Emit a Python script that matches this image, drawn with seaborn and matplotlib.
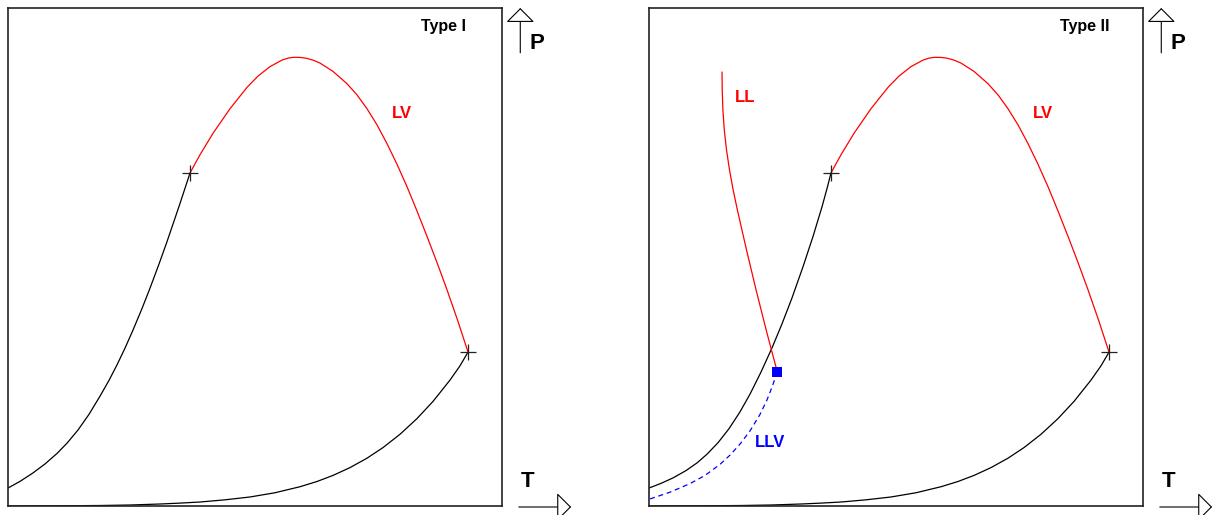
import pandas as pd
import seaborn as sns
from matplotlib import pyplot as plt

sns.set_style('white')
plt.rcParams['font.family'] = ['Liberation Sans', 'DejaVu Sans']
plt.rcParams['text.color'] = 'black'

# vapour pressure curve of the light component (type I)
t_vp1 = [0, 2.43, 5.06, 7.49, 9.92, 11.94, 14.17, 16.40, 18.62, 20.45, 22.06,
         23.68, 25.30, 27.13, 28.74, 30.57, 32.19, 33.60, 34.82, 35.83, 36.84]
p_vp1 = [3.61, 4.94, 6.64, 8.44, 10.55, 12.61, 15.26, 18.41, 22.05, 25.24, 28.33,
         31.69, 35.32, 39.66, 43.73, 48.59, 53.09, 57.19, 60.76, 63.80, 66.87]

# vapour pressure curve of the light component (type II)
t_vp1b = [0, 2.43, 4.86, 7.49, 9.72, 11.74, 13.97, 16.19, 18.42, 20.45, 22.67,
          24.90, 26.92, 28.95, 31.17, 33.20, 35.02, 36.03, 36.84]
p_vp1b = [3.61, 4.54, 5.64, 7.11, 8.65, 10.40, 12.71, 15.52, 18.90, 22.47, 26.89,
          31.75, 36.57, 41.79, 48.03, 54.12, 60.08, 63.73, 66.87]

# vapour pressure curve of the heavy component
t_vp2 = [0, 10.53, 18.62, 24.70, 30.77, 34.82, 38.87, 43.93, 48.99, 54.05, 59.11,
         62.55, 65.79, 69.23, 72.67, 75.91, 79.35, 82.79, 86.03, 89.47, 91.50, 93.12]
p_vp2 = [0, 0.04, 0.10, 0.20, 0.40, 0.58, 0.80, 1.24, 1.81, 2.66, 3.87,
         4.92, 6.14, 7.71, 9.60, 11.73, 14.40, 17.55, 21.00, 25.28, 28.15, 30.90]

# LV critical line
t_lv = [36.84, 38.87, 41.50, 44.94, 48.38, 50.61, 53.04, 55.47, 56.68, 57.69,
        59.11, 60.32, 61.74, 63.16, 65.79, 68.62, 70.65, 72.67, 74.70, 76.72,
        78.74, 80.77, 82.79, 84.82, 86.84, 88.87, 91.09, 93.12]
p_lv = [66.87, 70.54, 74.84, 79.78, 84.06, 86.33, 88.23, 89.54, 89.93, 90.09,
        90.08, 89.92, 89.54, 88.94, 87.27, 84.80, 82.55, 79.78, 76.53, 72.77,
        68.63, 64.12, 59.24, 54.14, 48.90, 43.41, 37.07, 30.90]

# LL critical line and LLV three-phase line (type II)
t_ll = [14.78, 14.82, 14.96, 15.24, 15.69, 16.30, 17.04, 17.89, 19.74, 21.68, 23.72, 25.97]
p_ll = [87.15, 83.53, 79.52, 75.50, 71.49, 67.47, 63.45, 59.44, 51.41, 43.37, 35.34, 26.91]
t_llv = [25.97, 24.90, 23.89, 22.47, 20.45, 18.42, 16.40, 14.37, 11.34, 8.30, 4.25, 0]
p_llv = [26.91, 23.87, 21.31, 18.39, 15.08, 12.43, 10.22, 8.35, 6.14, 4.50, 2.77, 1.35]

# critical points
t_crit = [36.84, 93.12]
p_crit = [66.87, 30.90]
t_ucep = [25.97]
p_ucep = [26.91]

fig = plt.figure(figsize=(12.16, 5.15), dpi=100)
ax1 = fig.add_axes([0.00658, 0.01748, 0.40625, 0.96699])
ax2 = fig.add_axes([0.53372, 0.01748, 0.40625, 0.96699])


def curve(ax, t, p, **kw):
    sns.lineplot(data=pd.DataFrame({'T': t, 'P': p}), x='T', y='P',
                 sort=False, estimator=None, ax=ax, **kw)


for ax, title, vp1x, vp1y in [(ax1, 'Type I', t_vp1, p_vp1),
                              (ax2, 'Type II', t_vp1b, p_vp1b)]:
    curve(ax, vp1x, vp1y, color='black', linewidth=0.9)
    curve(ax, t_vp2, p_vp2, color='black', linewidth=0.9)
    curve(ax, t_lv, p_lv, color='red', linewidth=0.9)
    sns.scatterplot(x=t_crit, y=p_crit, marker='+', s=130, color='#222222',
                    linewidth=0.9, ax=ax, zorder=5)
    ax.text(88.2, 96.2, title, ha='center', va='center', fontsize=11.5,
            fontweight='bold')
    ax.text(79.7, 78.9, 'LV', color='red', ha='center', va='center',
            fontsize=12, fontweight='bold')
    ax.set_xlim(0, 100)
    ax.set_ylim(0, 100)
    ax.set_xticks([])
    ax.set_yticks([])
    ax.set_xlabel('')
    ax.set_ylabel('')
    for s in ax.spines.values():
        s.set_linewidth(1.2)
        s.set_color('#222222')
    # P and T axis arrows outside the box
    ax.annotate('', xy=(1.037, 1.0), xytext=(1.037, 0.91), xycoords='axes fraction',
                arrowprops=dict(arrowstyle='-|>,head_length=0.7,head_width=0.7',
                                mutation_scale=13, fc='white', ec='black',
                                lw=0.8, shrinkA=0, shrinkB=0))
    ax.annotate('', xy=(1.14, -0.002), xytext=(1.034, -0.002), xycoords='axes fraction',
                arrowprops=dict(arrowstyle='-|>,head_length=0.7,head_width=0.7',
                                mutation_scale=13, fc='white', ec='black',
                                lw=0.8, shrinkA=0, shrinkB=0))
    ax.text(1.07, 0.928, 'P', transform=ax.transAxes, ha='center', va='center',
            fontsize=16, fontweight='bold')
    ax.text(1.052, 0.05, 'T', transform=ax.transAxes, ha='center', va='center',
            fontsize=16, fontweight='bold')

curve(ax2, t_ll, p_ll, color='red', linewidth=0.9)
curve(ax2, t_llv, p_llv, color='blue', linewidth=0.9, dashes=(4, 3))
sns.scatterplot(x=t_ucep, y=p_ucep, marker='s', s=60, color='blue',
                linewidth=0, ax=ax2, zorder=6)
ax2.text(19.4, 82.1, 'LL', color='red', ha='center', va='center',
         fontsize=12, fontweight='bold')
ax2.text(24.5, 12.7, 'LLV', color='blue', ha='center', va='center',
         fontsize=12, fontweight='bold')

plt.savefig('out.png', dpi=100)
